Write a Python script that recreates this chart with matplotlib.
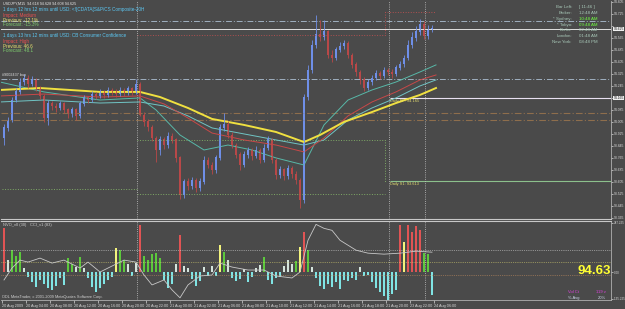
import numpy as np
import matplotlib
matplotlib.use("Agg")
from matplotlib import pyplot as plt

plt.rcParams['font.family'] = ['Liberation Sans', 'DejaVu Sans']

BG = '#4a4a4a'

# ---- price data (USDJPY M15), one candle per index ----
open_first = 93.898
close = [93.965, 94.018, 94.151, 94.205, 94.271, 94.298, 94.258, 94.285, 94.231, 94.178,
         94.031, 94.131, 94.111, 94.098, 94.125, 94.085, 94.058, 94.085, 94.045, 94.125,
         94.165, 94.151, 94.191, 94.178, 94.205, 94.185, 94.218, 94.205, 94.191, 94.218,
         94.198, 94.225, 94.205, 94.258, 94.051, 94.005, 93.971, 93.898, 93.818, 93.885,
         93.851, 93.911, 93.885, 93.765, 93.518, 93.605, 93.578, 93.618, 93.565, 93.605,
         93.751, 93.718, 93.685, 93.765, 93.965, 93.991, 93.918, 93.851, 93.785, 93.718,
         93.785, 93.818, 93.778, 93.818, 93.751, 93.831, 93.885, 93.751, 93.651, 93.685,
         93.645, 93.698, 93.658, 93.618, 93.485, 94.171, 94.351, 94.518, 94.585, 94.571,
         94.605, 94.451, 94.431, 94.485, 94.511, 94.531, 94.451, 94.385, 94.338, 94.285,
         94.231, 94.271, 94.298, 94.325, 94.311, 94.351, 94.338, 94.325, 94.365, 94.391,
         94.431, 94.518, 94.565, 94.605, 94.658, 94.578, 94.618, 94.625]
high = [93.991, 94.038, 94.171, 94.231, 94.298, 94.325, 94.318, 94.311, 94.298, 94.245,
        94.191, 94.151, 94.145, 94.131, 94.145, 94.138, 94.098, 94.105, 94.098, 94.145,
        94.185, 94.178, 94.211, 94.205, 94.225, 94.218, 94.238, 94.231, 94.225, 94.238,
        94.231, 94.245, 94.238, 94.291, 94.271, 94.071, 94.025, 93.985, 93.911, 93.911,
        93.905, 93.938, 93.931, 93.898, 93.778, 93.625, 93.631, 93.638, 93.631, 93.631,
        93.778, 93.771, 93.738, 93.785, 93.991, 94.065, 94.011, 93.938, 93.865, 93.805,
        93.811, 93.838, 93.831, 93.845, 93.831, 93.858, 93.911, 93.898, 93.765, 93.711,
        93.698, 93.718, 93.711, 93.678, 93.631, 94.191, 94.385, 94.551, 94.718, 94.685,
        94.685, 94.618, 94.485, 94.505, 94.538, 94.551, 94.545, 94.465, 94.405, 94.351,
        94.305, 94.291, 94.318, 94.351, 94.345, 94.371, 94.365, 94.358, 94.385, 94.411,
        94.451, 94.551, 94.605, 94.645, 94.691, 94.678, 94.651, 94.651]
low = [93.851, 93.945, 94.005, 94.138, 94.191, 94.251, 94.231, 94.245, 94.211, 94.158,
       94.005, 93.985, 94.085, 94.071, 94.085, 94.065, 94.031, 94.038, 94.018, 94.031,
       94.111, 94.131, 94.138, 94.158, 94.165, 94.165, 94.171, 94.185, 94.171, 94.178,
       94.178, 94.185, 94.185, 94.191, 94.045, 93.978, 93.945, 93.878, 93.738, 93.785,
       93.825, 93.831, 93.865, 93.738, 93.491, 93.498, 93.551, 93.558, 93.538, 93.545,
       93.591, 93.698, 93.658, 93.665, 93.751, 93.945, 93.898, 93.831, 93.765, 93.685,
       93.705, 93.765, 93.751, 93.765, 93.731, 93.738, 93.818, 93.731, 93.625, 93.631,
       93.618, 93.625, 93.631, 93.591, 93.431, 93.465, 94.151, 94.331, 94.498, 94.545,
       94.551, 94.431, 94.405, 94.418, 94.471, 94.491, 94.431, 94.365, 94.311, 94.258,
       94.211, 94.218, 94.251, 94.285, 94.291, 94.298, 94.318, 94.298, 94.311, 94.351,
       94.371, 94.418, 94.498, 94.545, 94.585, 94.558, 94.558, 94.605]

# moving averages (read at a few bars)
yellow_x = [-1, 9, 24, 34, 39, 46, 52, 60, 68, 75, 79, 85, 92, 98, 104, 108]
yellow_ma = [94.218, 94.231, 94.205, 94.205, 94.171, 94.098, 94.025, 93.985, 93.938, 93.871,
             93.918, 94.005, 94.071, 94.131, 94.185, 94.231]
red_x = [-1, 10, 24, 34, 40, 46, 52, 60, 68, 75, 80, 86, 92, 98, 104, 108]
red_ma = [94.178, 94.191, 94.171, 94.178, 94.125, 94.031, 93.931, 93.885, 93.851, 93.805,
          93.898, 94.045, 94.138, 94.205, 94.285, 94.318]
tealf_x = [-1, 10, 24, 34, 38, 44, 50, 56, 62, 68, 75, 80, 86, 92, 98, 104, 108]
tealf_ma = [94.271, 94.205, 94.151, 94.165, 94.085, 93.918, 93.818, 93.851, 93.818, 93.765,
            93.718, 93.985, 94.151, 94.218, 94.271, 94.338, 94.385]
teals_x = [-1, 10, 24, 34, 40, 46, 52, 60, 68, 75, 80, 86, 92, 98, 104, 108]
teals_ma = [94.138, 94.151, 94.131, 94.138, 94.111, 94.045, 93.965, 93.925, 93.885, 93.851,
            93.885, 94.018, 94.098, 94.165, 94.245, 94.285]

# levels
bid = 94.625
pivot = 94.165
s1 = 93.613
grey_levels = [94.678, 94.291]
brown_levels = [94.065, 94.018]

# lower window: histogram + CCI
hist = [220, 60, 110, 80, 100, 20, -25, -50, -75, -40,
        -60, -80, -90, -70, -30, -65, 70, 40, 25, 75,
        20, -30, -75, -100, -80, -60, -40, -25, 120, 110,
        60, 40, -20, 45, 235, 80, 60, 90, 95, 70,
        -40, -80, -60, 40, 185, 30, 20, -35, -70, -45,
        25, -20, 30, -20, 135, 100, 60, -30, -45, -35,
        15, -50, -25, 20, 35, 75, -40, -60, -30, -25,
        30, 60, 40, 55, 125, 200, 110, 25, -30, -70,
        -85, -60, -75, -50, -85, -40, -45, -30, -40, 25,
        -20, -15, -50, -80, -100, -120, -140, -110, -90, 235,
        150, 235, 200, 230, 210, 95, 90, -115]
hist_kind = ("rwgggwcccc" "ccccccggwg" "wcccccccyg" "gwcwrggggg" "cccwrwwccc"
             "wcwcygwccc" "wccwwgcccc" "wwwgyrgwcc" "cccccccccw" "cccccccccr" "yrrrrggc")
cci_x = [0, 2, 4, 6, 9, 12, 15, 19, 21, 24, 27, 30, 33, 35, 37, 40, 42, 44, 46, 49,
         52, 54, 57, 61, 65, 68, 72, 74, 76, 78, 80, 82, 84, 88, 91, 95, 99, 103, 107]
cci = [-40, 20, 60, 50, 70, 45, 60, 20, 50, 0, 30, 60, 50, -15, -65, -40, -90, -130, -65, -20,
       -15, 45, 25, 10, 10, -20, -30, 0, 160, 240, 220, 210, 160, 110, 95, 90, 95, 105, 100]

price_ticks = [94.805, 94.725, 94.645, 94.565, 94.485, 94.405, 94.325, 94.245, 94.165, 94.085,
               94.005, 93.925, 93.845, 93.765, 93.685, 93.605, 93.525, 93.445, 93.365]
time_labels = ["20 Aug 2009", "20 Aug 04:00", "20 Aug 08:00", "20 Aug 12:00", "20 Aug 16:00",
               "20 Aug 20:00", "20 Aug 22:00", "21 Aug 00:00", "21 Aug 02:00", "21 Aug 06:00",
               "21 Aug 08:00", "21 Aug 10:00", "21 Aug 12:00", "21 Aug 14:00", "21 Aug 16:00",
               "21 Aug 18:00", "21 Aug 20:00", "23 Aug 22:00", "24 Aug 06:00"]

n = len(close)
idx = np.arange(n)
opn = [open_first] + close[:-1]

W, H = 625, 309
fig = plt.figure(figsize=(6.25, 3.09), dpi=100, facecolor=BG)

def pos(x, y):
    return x / W, 1 - y / H

ax = fig.add_axes([1 / W, (H - 219) / H, 610 / W, 218 / H], facecolor=BG)
ax2 = fig.add_axes([1 / W, 9 / H, 610 / W, 79 / H], facecolor=BG)
XL = (-0.75, 151.75)

# ---- main window ----
ax.set_xlim(*XL)
ax.set_ylim(93.358, 94.811)

for lv in grey_levels:
    ax.axhline(lv, color='#9fb0c0', lw=0.7, ls=(0, (6, 2, 1, 2)))
for lv in brown_levels:
    ax.axhline(lv, color='#8e6e4c', lw=0.8, ls=(0, (6, 2, 1, 2)))
ax.axhline(bid, color='#e0e0e0', lw=0.7)
ax.hlines(pivot, 96.5, XL[1], color='#e8e0f0', lw=0.8)
ax.hlines(s1, 96.5, XL[1], color='#8cc08c', lw=0.8)

# previous-day high/low style dotted lines
ax.plot([33.25, 95.25, 95.25, 107.75], [94.585, 94.585, 94.738, 94.738],
        color='#b05050', lw=0.7, ls=':')
ax.plot([-0.5, 33.25], [93.558, 93.558], color='#7faa66', lw=0.7, ls=':')
ax.plot([33.25, 95.25, 95.25], [93.885, 93.885, 93.605], color='#7faa66', lw=0.7, ls=':')
ax.plot([33.25, 95.25], [93.525, 93.525], color='#7faa66', lw=0.7, ls=':')

for xs in [33.25, 96.25, 105.25]:
    ax.axvline(xs, color='#c8c8c8', lw=0.6, ls=':')
    ax2.axvline(xs, color='#c8c8c8', lw=0.6, ls=':')

ax.plot(tealf_x, tealf_ma, color='#58b8a8', lw=0.7)
ax.plot(teals_x, teals_ma, color='#70c4c4', lw=0.7)
ax.plot(red_x, red_ma, color='#c84848', lw=0.7)
ax.plot(yellow_x, yellow_ma, color='#f0e040', lw=1.4)

up = [c >= o for o, c in zip(opn, close)]
ccol = ['#6f8fe8' if u else '#b84848' for u in up]
ax.vlines(idx, low, high, colors=ccol, lw=0.6)
ax.bar(idx, [abs(c - o) + 0.003 for o, c in zip(opn, close)],
       bottom=[min(o, c) for o, c in zip(opn, close)], width=0.6, color=ccol, lw=0)

ax.set_xticks([])
ax.yaxis.tick_right()
ax.set_yticks(price_ticks)
# the boxed bid / pivot labels take the place of the two nearest tick labels
hidden = [94.645, 94.165]
ax.set_yticklabels(['' if p in hidden else '%.3f' % p for p in price_ticks])
ax.tick_params(axis='y', length=1.5, width=0.5, colors='#d8d8d8', labelsize=2.4, pad=0.6)
for s in ['left', 'top']:
    ax.spines[s].set_visible(False)
ax.spines['right'].set_color('#b0b0b0')
ax.spines['right'].set_linewidth(0.6)
ax.spines['bottom'].set_color('#c8c8c8')
ax.spines['bottom'].set_linewidth(0.8)

yt = ax.get_yaxis_transform()
for v in [bid, pivot]:
    ax.text(1.004, v, '%.3f' % v, transform=yt, fontsize=2.4, color='#202020', va='center',
            ha='left', clip_on=False, bbox=dict(fc='#f0f0f0', ec='none', pad=0.3))

ax.text(96.6, pivot - 0.006, 'Daily PP: 94.165', fontsize=2.8, color='#e8e070', va='top')
ax.text(96.6, s1 - 0.006, 'Daily S1: 93.613', fontsize=2.8, color='#e8e070', va='top')
ax.text(-0.4, 94.318, '#9002437 buy', fontsize=2.7, color='#e0e0e0', va='center')

# news / header texts
fig.text(*pos(3, 4), 'USDJPY,M15  94.618 94.628 94.608 94.625', fontsize=2.7,
         color='#e8e8e8', va='center')
news = [(10, '1 days 12 hrs 12 mins until USD: <!' + '[CDATA[S&P/CS Composite-20H', '#5cc8f4'),
        (15, 'Impact: Medium', '#e85050'),
        (20, 'Previous: -12.1%', '#e8e070'),
        (25, 'Forecast: -15.3%', '#80d070'),
        (35, '1 days 13 hrs 12 mins until USD: CB Consumer Confidence', '#5cc8f4'),
        (41, 'Impact: High', '#e85050'),
        (46, 'Previous: 46.6', '#e8e070'),
        (51, 'Forecast: 48.1', '#80d070')]
for yy, t, c in news:
    fig.text(*pos(3, yy), t, fontsize=3.3, color=c, va='center')

clock = [(7, 'Bar Left:', '[ 11:46 ]', '#a8c8b8'),
         (13, 'Broker:', '12:48 AM', '#a8c8b8'),
         (19, '* Sydney:', '10:48 AM', '#70ff40'),
         (25, '* Tokyo:', '09:48 AM', '#70ff40'),
         (30, 'Berlin:', '02:48 AM', '#a8c8b8'),
         (36, 'London:', '01:48 AM', '#a8c8b8'),
         (42, 'New York:', '08:48 PM', '#a8c8b8')]
for yy, lab, val, vc in clock:
    fig.text(*pos(572, yy), lab, fontsize=3.2, color='#a8c8b8', ha='right', va='center')
    fig.text(*pos(579, yy), val, fontsize=3.2, color=vc, ha='left', va='center')

# ---- lower window ----
ax2.set_xlim(*XL)
ax2.set_ylim(-141, 257)
kind_col = {'c': '#80e4e4', 'g': '#5cc83c', 'r': '#e05454', 'y': '#f4f47c', 'w': '#d4e4dc'}
ax2.bar(idx, hist, width=0.6, color=[kind_col[k] for k in hist_kind], lw=0)
ax2.axhline(110, color='#d8d8d8', lw=0.5, ls=':')
ax2.axhline(50, color='#d8d070', lw=0.5, ls=':')
ax2.axhline(-15, color='#c89060', lw=0.5, ls=':')
ax2.plot(cci_x, cci, color='#c8c8c8', lw=0.6)

ax2.yaxis.tick_right()
ax2.set_yticks([247.225, 0, -135.225])
ax2.set_yticklabels(['247.225', '0.00', '-135.225'])
ax2.tick_params(axis='y', length=1.5, width=0.5, colors='#d8d8d8', labelsize=2.2, pad=0.6)
ax2.set_xticks([6 * k - 0.5 for k in range(len(time_labels))])
ax2.set_xticklabels(time_labels)
for lb in ax2.get_xticklabels():
    lb.set_ha('left')
ax2.tick_params(axis='x', length=2, width=0.5, colors='#d8d8d8', labelsize=2.7, pad=1)
for s in ['left']:
    ax2.spines[s].set_visible(False)
for s in ['right', 'bottom']:
    ax2.spines[s].set_color('#b0b0b0')
    ax2.spines[s].set_linewidth(0.6)
ax2.spines['top'].set_color('#c8c8c8')
ax2.spines['top'].set_linewidth(0.8)

fig.text(*pos(3, 225), 'NVO_v0 (30)', fontsize=2.9, color='#d0d0d0', va='center')
fig.text(*pos(30, 225), 'CCI_v1 (83)', fontsize=2.9, color='#d0d0d0', va='center')
fig.text(*pos(2, 297), 'ODL MetaTrader, c 2001-2009 MetaQuotes Software Corp.', fontsize=2.8,
         color='#d0d0d0', va='center')
fig.text(*pos(577, 271), '94.63', fontsize=9.5, weight='bold', color='#ffff33',
         ha='left', va='center')
fig.text(*pos(568, 292), 'Vol Ct', fontsize=3, color='#e040e0', va='center')
fig.text(*pos(596, 292), '119 v', fontsize=3, color='#e040e0', va='center')
fig.text(*pos(568, 298), '% Avg', fontsize=3, color='#d0d8f0', va='center')
fig.text(*pos(598, 298), '20%', fontsize=3, color='#d0d8f0', va='center')

fig.savefig('out.png', dpi=100, facecolor=BG)
